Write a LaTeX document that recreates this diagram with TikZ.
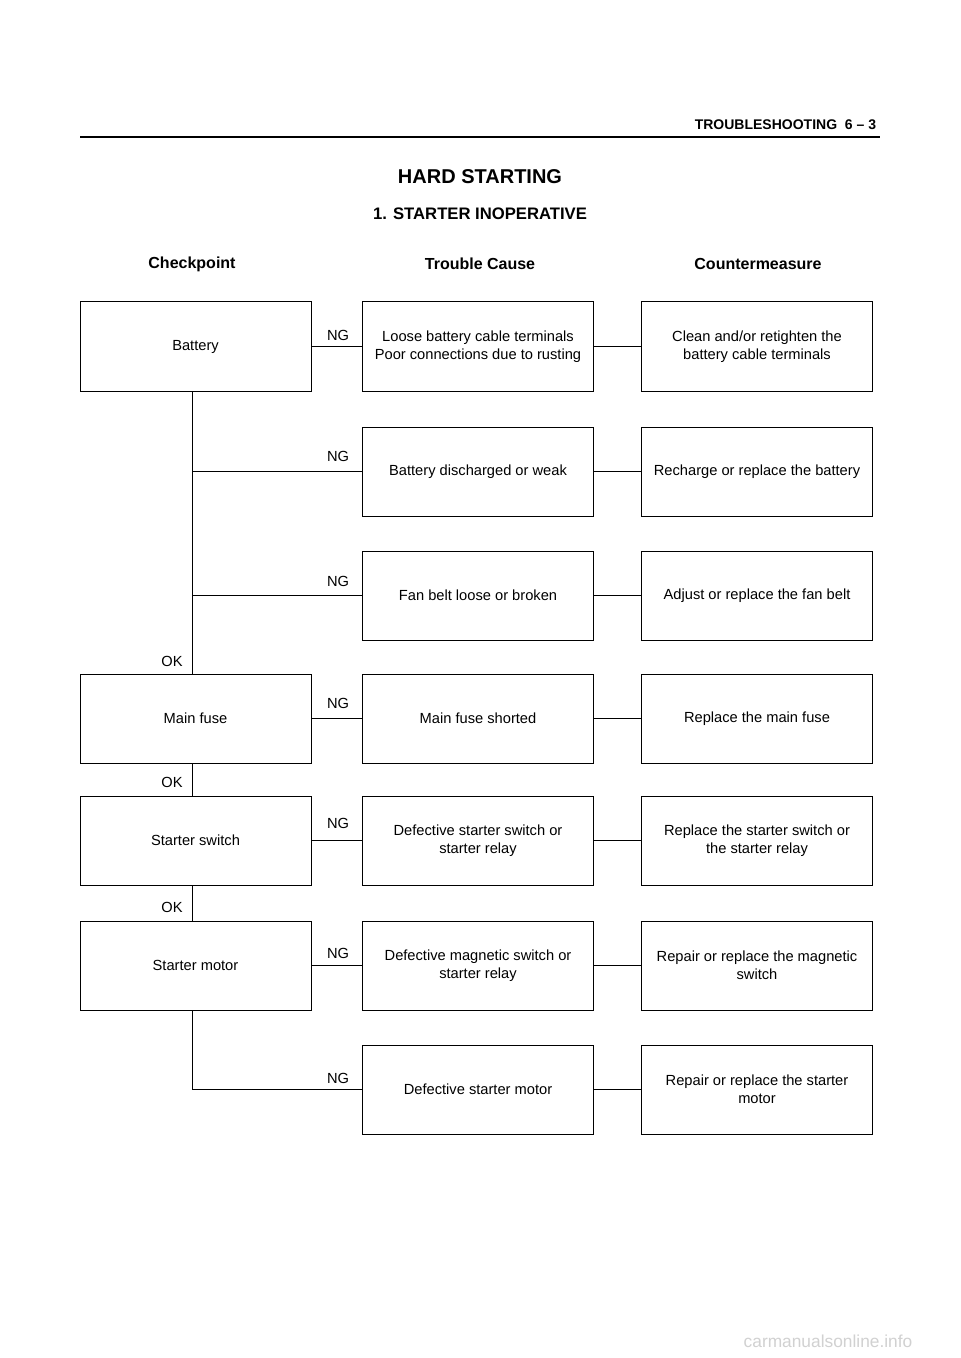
\documentclass[tikz,border=0pt]{standalone}
\usepackage{fontspec}
\setmainfont{Liberation Sans}
\begin{document}
\begin{tikzpicture}[x=0.75pt,y=-0.75pt,line width=0.75pt,
  bx/.style={draw,minimum width=231*0.75pt,minimum height=89*0.75pt,align=center,font=\fontsize{11}{13.5}\selectfont,inner sep=1pt},
  lab/.style={font=\fontsize{11}{13}\selectfont},
  hd/.style={font=\bfseries\fontsize{12}{14}\selectfont}]
\fill[white] (0,0) rectangle (960,1358);
\useasboundingbox (0,0) rectangle (960,1358);
\node[anchor=east,font=\bfseries\fontsize{10.5}{12}\selectfont] (hdr) at (881,125) {TROUBLESHOOTING\ \ 6 – 3};
\draw[line width=1.5pt] (80,137) coordinate (r1) -- (880,137) coordinate (r2);
\node[font=\bfseries\fontsize{15}{18}\selectfont] (t1) at (480,177) {HARD STARTING};
\node[font=\bfseries\fontsize{12.5}{15}\selectfont] (t2) at (480,214) {1. STARTER INOPERATIVE};
\node[hd] (h1) at (192,264) {Checkpoint};
\node[hd] (h2) at (480,264) {Trouble Cause};
\node[hd] (h3) at (758,264) {Countermeasure};
% left
\node[bx] (L1) at (195.5,346.5) {Battery};
\node[bx] (L4) at (195.5,718.5) {Main fuse};
\node[bx] (L5) at (195.5,840.5) {Starter switch};
\node[bx] (L6) at (195.5,965.5) {Starter motor};
% middle
\node[bx] (M1) at (478,346.5) {Loose battery cable terminals\\Poor connections due to rusting};
\node[bx] (M2) at (478,471.5) {Battery discharged or weak};
\node[bx] (M3) at (478,595.5) {Fan belt loose or broken};
\node[bx] (M4) at (478,718.5) {Main fuse shorted};
\node[bx] (M5) at (478,840.5) {Defective starter switch or\\starter relay};
\node[bx] (M6) at (478,965.5) {Defective magnetic switch or\\starter relay};
\node[bx] (M7) at (478,1089.5) {Defective starter motor};
% right
\node[bx] (R1) at (757,346.5) {Clean and/or retighten the\\battery cable terminals};
\node[bx] (R2) at (757,471.5) {Recharge or replace the battery};
\node[bx] (R3) at (757,595.5) {Adjust or replace the fan belt};
\node[bx] (R4) at (757,718.5) {Replace the main fuse};
\node[bx] (R5) at (757,840.5) {Replace the starter switch or\\the starter relay};
\node[bx] (R6) at (757,965.5) {Repair or replace the magnetic\\switch};
\node[bx] (R7) at (757,1089.5) {Repair or replace the starter\\motor};
\foreach \i in {1,...,7} \draw (M\i.east) -- (R\i.west);
\foreach \i in {1,4,5,6} \draw (L\i.east) -- (M\i.west);
% trunk
\draw (L1.south -| 192,0) -- (L4.north -| 192,0);
\draw (192,471.5) coordinate (b2) -- (M2.west);
\draw (192,595.5) coordinate (b3) -- (M3.west);
\draw (L4.south -| 192,0) -- (L5.north -| 192,0);
\draw (L5.south -| 192,0) -- (L6.north -| 192,0);
\draw (L6.south -| 192,0) -- (192,1089.5) coordinate (b7) -- (M7.west);
% labels
\foreach \y/\n in {335/n1,456/n2,581/n3,703/n4,823/n5,953/n6,1078/n7} \node[lab] (\n) at (338,\y) {NG};
\foreach \y/\n in {661/o1,782/o2,907/o3} \node[lab] (\n) at (172,\y) {OK};
\node[text=black!18,font=\fontsize{13}{15}\selectfont] (wm) at (828,1341) {carmanualsonline.info};
\end{tikzpicture}
\end{document}
